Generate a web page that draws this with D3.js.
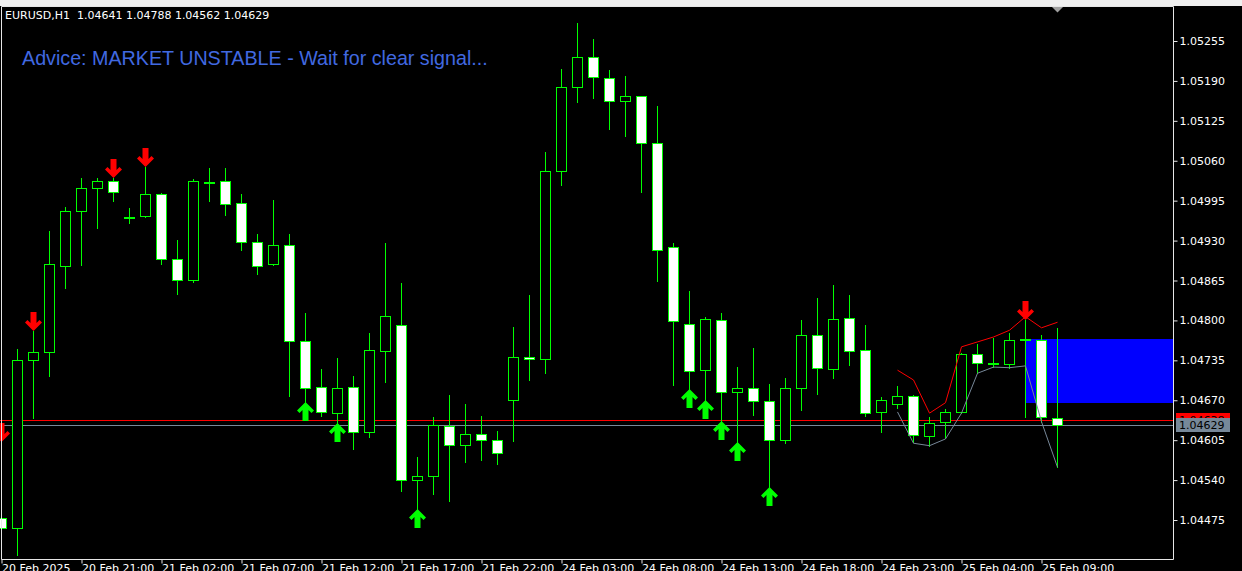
<!DOCTYPE html>
<html>
<head>
<meta charset="utf-8">
<script src="https://cdn.jsdelivr.net/npm/d3@7"></script>
<style>
html, body { margin: 0; padding: 0; background: #000; overflow: hidden; }
</style>
</head>
<body>
<div id="chart"></div>
<script>
// EURUSD H1 candles, 20 Feb 16:00 .. 25 Feb 10:00
const opens = [1.04478, 1.04462, 1.04735, 1.04749, 1.04889, 1.04978, 1.05016, 1.05027, 1.04968, 1.04970,
  1.05006, 1.04900, 1.04866, 1.05025, 1.05027, 1.04991, 1.04928, 1.04892, 1.04923, 1.04767,
  1.04692, 1.04649, 1.04692, 1.04618, 1.04750, 1.04793, 1.04540, 1.04547, 1.04628, 1.04597,
  1.04615, 1.04605, 1.04670, 1.04740, 1.04737, 1.05043, 1.05180, 1.05229, 1.05195, 1.05157,
  1.05165, 1.05089, 1.04920, 1.04794, 1.04719, 1.04801, 1.04683, 1.04690, 1.04669, 1.04605,
  1.04690, 1.04776, 1.04721, 1.04804, 1.04752, 1.04651, 1.04664, 1.04677, 1.04612, 1.04635,
  1.04651, 1.04745, 1.04729, 1.04729, 1.04768, 1.04768, 1.04641];
const highs = [1.04602, 1.04754, 1.04783, 1.04946, 1.04985, 1.05032, 1.05032, 1.05032, 1.04983, 1.05050,
  1.05007, 1.04931, 1.05030, 1.05048, 1.05048, 1.05006, 1.04941, 1.04996, 1.04941, 1.04812,
  1.04721, 1.04739, 1.04710, 1.04780, 1.04926, 1.04861, 1.04578, 1.04643, 1.04679, 1.04664,
  1.04644, 1.04620, 1.04789, 1.04841, 1.05074, 1.05209, 1.05284, 1.05258, 1.05208, 1.05198,
  1.05166, 1.05149, 1.04926, 1.04848, 1.04806, 1.04812, 1.04724, 1.04755, 1.04697, 1.04706,
  1.04801, 1.04837, 1.04858, 1.04841, 1.04793, 1.04675, 1.04693, 1.04679, 1.04643, 1.04656,
  1.04747, 1.04762, 1.04771, 1.04780, 1.04801, 1.04776, 1.04788];
const lows = [1.04459, 1.04418, 1.04641, 1.04710, 1.04853, 1.04890, 1.04951, 1.04995, 1.04959, 1.04968,
  1.04892, 1.04843, 1.04863, 1.04995, 1.04972, 1.04915, 1.04876, 1.04891, 1.04677, 1.04667,
  1.04644, 1.04633, 1.04591, 1.04610, 1.04700, 1.04522, 1.04493, 1.04517, 1.04506, 1.04569,
  1.04573, 1.04566, 1.04604, 1.04703, 1.04714, 1.05021, 1.05156, 1.05162, 1.05112, 1.05100,
  1.05009, 1.04864, 1.04695, 1.04688, 1.04670, 1.04636, 1.04602, 1.04646, 1.04529, 1.04600,
  1.04654, 1.04680, 1.04706, 1.04727, 1.04644, 1.04618, 1.04657, 1.04602, 1.04596, 1.04609,
  1.04650, 1.04714, 1.04724, 1.04723, 1.04643, 1.04635, 1.04562];
const closes = [1.04462, 1.04735, 1.04749, 1.04892, 1.04978, 1.05016, 1.05027, 1.05009, 1.04967, 1.05006,
  1.04900, 1.04866, 1.05027, 1.05026, 1.04990, 1.04928, 1.04889, 1.04923, 1.04767, 1.04690,
  1.04651, 1.04690, 1.04618, 1.04752, 1.04807, 1.04540, 1.04547, 1.04630, 1.04597, 1.04615,
  1.04605, 1.04584, 1.04740, 1.04737, 1.05043, 1.05180, 1.05229, 1.05196, 1.05157, 1.05165,
  1.05089, 1.04915, 1.04799, 1.04718, 1.04802, 1.04683, 1.04690, 1.04669, 1.04605, 1.04690,
  1.04776, 1.04723, 1.04802, 1.04750, 1.04649, 1.04670, 1.04677, 1.04613, 1.04633, 1.04651,
  1.04745, 1.04731, 1.04730, 1.04768, 1.04769, 1.04643, 1.04629];

// signal arrows (bar indexes)
const downArrowBars = [0, 2, 7, 9, 64];
const upArrowBars = [19, 21, 26, 43, 44, 45, 46, 48];

// envelope lines drawn from bar 56 on
const bandStart = 56;
const redBand = [1.04719, 1.04703, 1.04649, 1.04666, 1.04757, 1.04765, 1.04773, 1.04784, 1.04806, 1.04788, 1.04797];
const greyBand = [1.04651, 1.04600, 1.04596, 1.04607, 1.04649, 1.04714, 1.04724, 1.04723, 1.04726, 1.04635, 1.04561];

// blue zone
const zoneStart = 64;
const zoneTop = 1.04770, zoneBottom = 1.04666;

const bid = 1.04629, ask = 1.04638;

const yTicks = [1.05255, 1.05190, 1.05125, 1.05060, 1.04995, 1.04930, 1.04865, 1.04800,
  1.04735, 1.04670, 1.04605, 1.04540, 1.04475];
const xTickBars = [0, 5, 10, 15, 20, 25, 30, 35, 40, 45, 50, 55, 60, 65];
const xTickLabels = ["20 Feb 2025", "20 Feb 21:00", "21 Feb 02:00", "21 Feb 07:00", "21 Feb 12:00",
  "21 Feb 17:00", "21 Feb 22:00", "24 Feb 03:00", "24 Feb 08:00", "24 Feb 13:00", "24 Feb 18:00",
  "24 Feb 23:00", "25 Feb 04:00", "25 Feb 09:00"];

const title = "EURUSD,H1  1.04641 1.04788 1.04562 1.04629";
const advice = "Advice: MARKET UNSTABLE - Wait for clear signal...";

const width = 1242, height = 571;
const frameL = 1.5, frameR = 1173.5, frameT = 6.5, frameB = 559.5;
const font = "DejaVu Sans";

const svg = d3.select("#chart").append("svg")
    .attr("width", width).attr("height", height).style("display", "block");

svg.append("rect").attr("width", width).attr("height", height).attr("fill", "#000");
svg.append("rect").attr("width", width).attr("height", 6).attr("fill", "#f0f0f0");

svg.append("defs").append("clipPath").attr("id", "plotClip")
    .append("rect").attr("x", 0).attr("y", 7).attr("width", 1173).attr("height", 552);

const x = d3.scaleLinear().domain([0, 66]).range([1.5, 1057.5]);
const y = d3.scaleLinear().domain([1.04475, 1.05255]).range([520, 41]);
const py = v => Math.round(y(v)) + 0.5;

const plot = svg.append("g").attr("clip-path", "url(#plotClip)");

// blue zone behind everything
plot.append("rect")
    .attr("x", Math.floor(x(zoneStart)))
    .attr("y", Math.round(y(zoneTop)))
    .attr("width", frameR - Math.floor(x(zoneStart)))
    .attr("height", Math.round(y(zoneBottom)) - Math.round(y(zoneTop)))
    .attr("fill", "#0000ff");

// ask / bid lines
plot.append("line").attr("x1", 0).attr("x2", frameR).attr("y1", py(ask)).attr("y2", py(ask))
    .attr("stroke", "#ff0000").attr("stroke-width", 1).attr("shape-rendering", "crispEdges");
plot.append("line").attr("x1", 0).attr("x2", frameR).attr("y1", py(bid)).attr("y2", py(bid))
    .attr("stroke", "#778899").attr("stroke-width", 1).attr("shape-rendering", "crispEdges");

// candles
const bars = d3.range(opens.length).map(i => ({ i, o: opens[i], h: highs[i], l: lows[i], c: closes[i] }));

const candle = plot.selectAll("g.candle").data(bars).join("g").attr("class", "candle");

candle.append("line")
    .attr("x1", d => x(d.i)).attr("x2", d => x(d.i))
    .attr("y1", d => Math.round(y(d.h))).attr("y2", d => Math.round(y(d.l)) + 1)
    .attr("stroke", "#00ff00").attr("stroke-width", 1);

candle.append("rect")
    .attr("x", d => x(d.i) - 5)
    .attr("y", d => py(Math.max(d.o, d.c)))
    .attr("width", 10)
    .attr("height", d => Math.max(1, py(Math.min(d.o, d.c)) - py(Math.max(d.o, d.c))))
    .attr("fill", d => d.c > d.o ? "#000" : "#fff")
    .attr("stroke", "#00ff00").attr("stroke-width", 1);

// envelope lines
const bandLine = d3.line().x((d, j) => x(bandStart + j)).y(d => y(d));
plot.append("path").datum(redBand).attr("d", bandLine)
    .attr("fill", "none").attr("stroke", "#ff0000").attr("stroke-width", 1);
plot.append("path").datum(greyBand).attr("d", bandLine)
    .attr("fill", "none").attr("stroke", "#778899").attr("stroke-width", 1);

// arrows (tip at the bar's high / low)
const upArrow = "M0,0 L8.5,8.5 L6,11 L3,8 L3,19 L-3,19 L-3,8 L-6,11 L-8.5,8.5 Z";
plot.selectAll("path.down").data(downArrowBars).join("path").attr("class", "down")
    .attr("d", upArrow)
    .attr("transform", i => `translate(${x(i)},${Math.round(y(highs[i]))}) scale(1,-1)`)
    .attr("fill", "#ff0000");
plot.selectAll("path.up").data(upArrowBars).join("path").attr("class", "up")
    .attr("d", upArrow)
    .attr("transform", i => `translate(${x(i)},${Math.round(y(lows[i]))})`)
    .attr("fill", "#00ff00");

// frame
svg.append("path")
    .attr("d", `M${frameL},${frameT}H${frameR}V${frameB}H${frameL}Z`)
    .attr("fill", "none").attr("stroke", "#e6e6e6").attr("stroke-width", 1);

// chart shift marker
svg.append("path").attr("d", "M1052,7 L1063,7 L1057.5,12.5 Z").attr("fill", "#a0a0a0");

// price axis
const yAxis = svg.append("g")
    .attr("transform", `translate(${frameR},0)`)
    .call(d3.axisRight(y).tickValues(yTicks).tickSize(4).tickPadding(2).tickFormat(d3.format(".5f")));
yAxis.select(".domain").remove();
yAxis.selectAll("line").attr("stroke", "#e6e6e6");
yAxis.selectAll("text").attr("fill", "#fff").attr("font-family", font).attr("font-size", 11);

// time axis
const xAxis = svg.append("g")
    .attr("transform", `translate(0,${frameB})`)
    .call(d3.axisBottom(x).tickValues(xTickBars).tickSize(4).tickPadding(1)
        .tickFormat((d, j) => xTickLabels[j]));
xAxis.select(".domain").remove();
xAxis.selectAll("line").attr("stroke", "#e6e6e6");
xAxis.selectAll("text").attr("fill", "#fff").attr("font-family", font).attr("font-size", 11)
    .attr("text-anchor", "start");

// ask / bid labels (bid tag sits over the ask tag)
const tags = [
    { v: ask, bg: "#ff0000" },
    { v: bid, bg: "#778899" }
];
tags.forEach(t => {
    const cy = y(t.v);
    svg.append("rect").attr("x", 1176).attr("y", Math.round(cy) - 7).attr("width", 54).attr("height", 14)
        .attr("fill", t.bg);
    svg.append("text").attr("x", 1179).attr("y", cy).attr("dy", "0.36em")
        .attr("fill", "#000").attr("font-family", font).attr("font-size", 11)
        .text(d3.format(".5f")(t.v));
});

// texts
svg.append("text").attr("x", 5).attr("y", 19)
    .attr("fill", "#fff").attr("font-family", font).attr("font-size", 11)
    .attr("xml:space", "preserve").style("white-space", "pre")
    .text(title);

svg.append("text").attr("x", 22).attr("y", 65)
    .attr("fill", "#4169e1").attr("font-family", "Liberation Sans, Arial, sans-serif").attr("font-size", 19.7)
    .text(advice);
</script>
</body>
</html>
